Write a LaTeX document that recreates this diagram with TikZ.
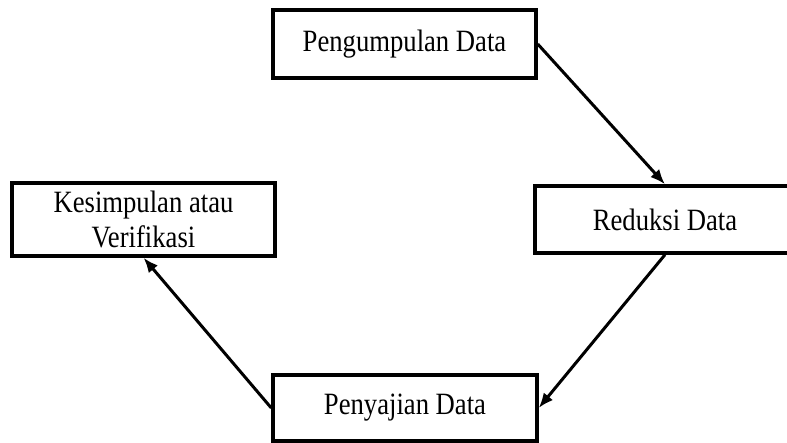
\documentclass[tikz,border=0pt]{standalone}
\usepackage{fontspec}
\setmainfont{Liberation Serif}[FakeStretch=0.86]
\usepackage{tikz}
\usetikzlibrary{arrows.meta, positioning}
\tikzstyle{stage} = [rectangle, draw = black, line width = 3.4pt, fill = white, text centered, align = center, font = \fontsize{31}{35}\selectfont]
\tikzstyle{flow} = [line width = 3pt, ->, >={Latex[length=15pt, width=12pt]}]

\begin{document}
\begin{tikzpicture}[x=1pt, y=-1pt]
  \useasboundingbox (0,0) rectangle (787,443);
  \node (kumpul) [stage, minimum width = 263pt, minimum height = 68pt] at (404.5,44) {Pengumpulan Data};
  \node (reduksi) [stage, minimum width = 260pt, minimum height = 67pt] at (665,219.5) {Reduksi Data};
  \node (simpul) [stage, minimum width = 263pt, minimum height = 73pt] at (143.5,219.5) {Kesimpulan atau\\Verifikasi};
  \node (saji) [stage, minimum width = 264pt, minimum height = 66pt] at (405,408) {Penyajian Data};
  \draw [flow] (kumpul.east) -- (reduksi.north);
  \draw [flow] (reduksi.south) -- (saji.east);
  \draw [flow] (saji.west) -- (simpul.south);
\end{tikzpicture}
\end{document}
